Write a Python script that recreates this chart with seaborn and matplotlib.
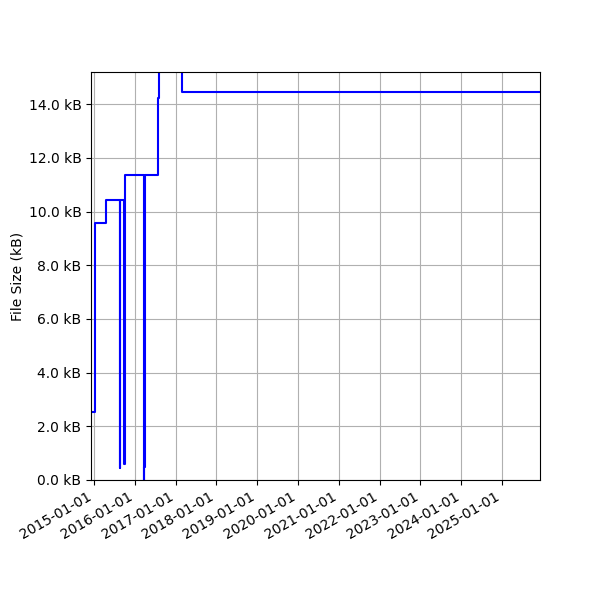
import numpy as np
import pandas as pd
import matplotlib.pyplot as plt
import matplotlib.dates as mdates
from matplotlib.ticker import FuncFormatter
import seaborn as sns

# file size history (kB), one row per change
dates = [
    "2014-12-09", "2015-01-09", "2015-04-22", "2015-08-21", "2015-08-22",
    "2015-10-02", "2015-10-03", "2016-03-24", "2016-03-27", "2016-03-30",
    "2016-07-25", "2016-08-05", "2017-03-03", "2025-12-05",
]
sizes_kb = [
    2.55, 9.56, 10.43, 0.44, 10.43,
    0.60, 11.36, 0.0, 0.5, 11.36,
    14.22, 16.8, 14.47, 14.47,
]

df = pd.DataFrame({
    "date": pd.to_datetime(dates),
    "size": sizes_kb,
})

fig, ax = plt.subplots(figsize=(6, 6), dpi=100)

sns.lineplot(data=df, x="date", y="size", ax=ax, color="blue",
             drawstyle="steps-post", linewidth=1.5)

ax.set_xlim(df["date"].min(), df["date"].max())
ax.set_ylim(0, 15.2)

ax.xaxis.set_major_locator(mdates.YearLocator())
ax.xaxis.set_major_formatter(mdates.DateFormatter("%Y-%m-%d"))
ax.yaxis.set_major_formatter(FuncFormatter(lambda v, pos: f"{v:.1f} kB"))

ax.set_xlabel("")
ax.set_ylabel("File Size (kB)", labelpad=3)
ax.grid(True)

fig.autofmt_xdate()
fig.subplots_adjust(left=0.152, right=0.9, top=0.88, bottom=0.2)

fig.savefig("out.png", dpi=100)
